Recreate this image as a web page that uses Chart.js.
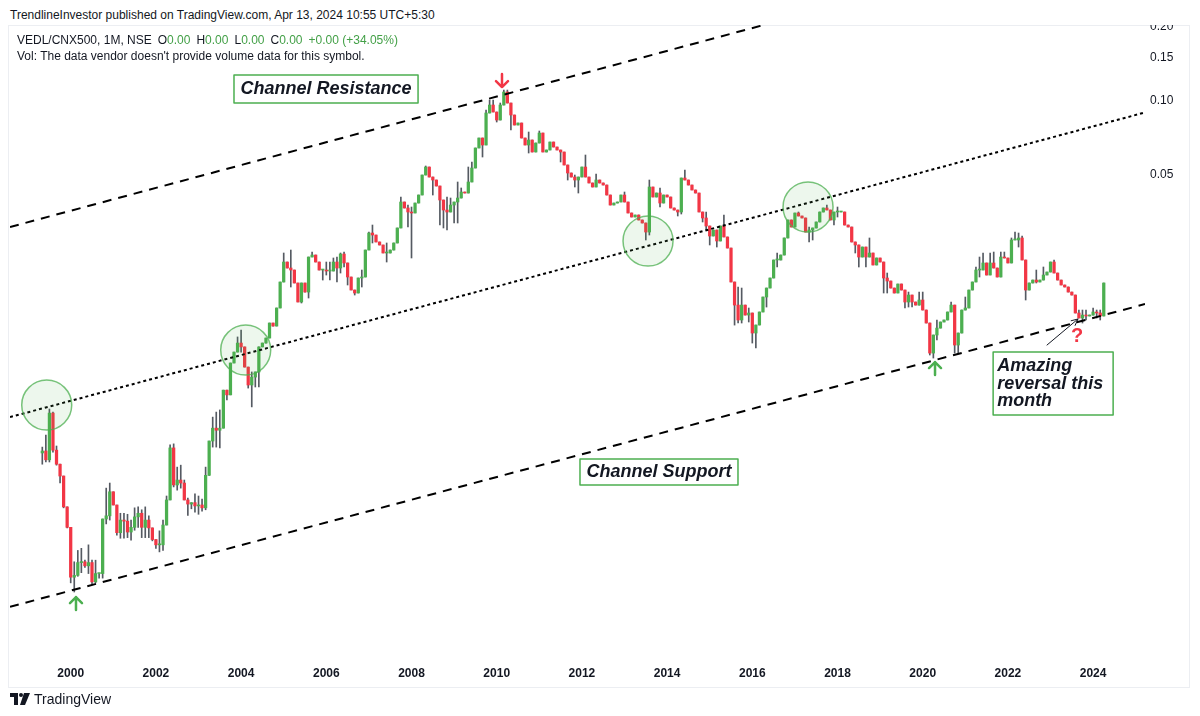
<!DOCTYPE html>
<html>
<head>
<meta charset="utf-8">
<script src="https://cdn.jsdelivr.net/npm/chart.js@4.4.1/dist/chart.umd.min.js"></script>
<style>
  html, body { margin: 0; padding: 0; background: #fff; }
  #wrap { position: relative; width: 1200px; height: 716px; overflow: hidden;
          font-family: "Liberation Sans", Arial, sans-serif; color: #131722; }
  #chart { position: absolute; left: 0; top: 0; }
  #head { position: absolute; left: 0; top: 0; width: 1200px; height: 25px; background: #fff;
          z-index: 2; font-size: 12px; line-height: 12px; }
  #head span { position: absolute; left: 10px; top: 9px; }
  .legend { position: absolute; left: 17px; font-size: 12px; line-height: 12px; z-index: 2; white-space: nowrap; }
  .legend .v { color: #43a047; }
  .legend .g { margin-left: 6px; }
  #brand { position: absolute; left: 10px; top: 691px; font-size: 14px; line-height: 16px; z-index: 2;
           display: flex; align-items: center; }
  #brand svg { margin-right: 4px; }
</style>
</head>
<body>
<div id="wrap">
  <canvas id="chart" width="1200" height="716"></canvas>
  <div id="head"><span>TrendlineInvestor published on TradingView.com, Apr 13, 2024 10:55 UTC+5:30</span></div>
  <div class="legend" style="top:34px">VEDL/CNX500, 1M, NSE<span class="g">O</span><span class="v">0.00</span><span class="g">H</span><span class="v">0.00</span><span class="g">L</span><span class="v">0.00</span><span class="g">C</span><span class="v">0.00</span><span class="g v">+0.00 (+34.05%)</span></div>
  <div class="legend" style="top:50px">Vol: The data vendor doesn't provide volume data for this symbol.</div>
  <div id="brand">
    <svg width="20" height="12" viewBox="0 0 20 12"><path d="M0 0h8v12h-4v-8h-4z" fill="#131722"/><circle cx="11" cy="2" r="2" fill="#131722"/><path d="M14 0h6l-5 12h-5z" fill="#131722"/></svg>
    <span>TradingView</span>
  </div>
</div>
<script>
// monthly candles, first one is May 1999, open of each candle = previous close
const startYear = 1999;
const startMonth = 5;
const firstOpen = 0.00371;

const closes = [
  0.00378, 0.00348, 0.00539, 0.00381, 0.00334, 0.00299, 0.00224, 0.00185, // 1999
  0.00116, 0.00118, 0.00133, 0.00134, 0.00129, 0.00133, 0.00111, 0.00120, 0.00120, 0.00200, 0.00206, 0.00258, // 2000
  0.00228, 0.00176, 0.00198, 0.00196, 0.00177, 0.00185, 0.00204, 0.00211, 0.00185, 0.00198, 0.00184, 0.00165, // 2001
  0.00157, 0.00157, 0.00189, 0.00239, 0.00389, 0.00275, 0.00288, 0.00280, 0.00239, 0.00230, 0.00233, 0.00226, // 2002
  0.00228, 0.00222, 0.00301, 0.00415, 0.00468, 0.00459, 0.00468, 0.00668, 0.00639, 0.00861, 0.00954, 0.01038, // 2003
  0.01001, 0.00829, 0.00701, 0.00755, 0.00792, 0.01001, 0.01038, 0.01088, 0.01252, 0.01217, 0.01441, 0.01838, // 2004
  0.02216, 0.02095, 0.02056, 0.01821, 0.01524, 0.01821, 0.01673, 0.02322, 0.02366, 0.02216, 0.02056, 0.02056, // 2005
  0.02037, 0.02037, 0.02216, 0.02095, 0.02388, 0.02196, 0.01926, 0.01705, 0.01658, 0.01908, 0.01926, 0.02479, // 2006
  0.02907, 0.02853, 0.02673, 0.02599, 0.02411, 0.02411, 0.02479, 0.02648, 0.03047, 0.03886, 0.03674, 0.03539, // 2007
  0.03506, 0.03849, 0.04149, 0.05003, 0.05392, 0.04910, 0.04774, 0.04514, 0.03959, 0.03605, 0.03539, 0.03778, // 2008
  0.03886, 0.04034, 0.04267, 0.04227, 0.04686, 0.05342, 0.06442, 0.07074, 0.06624, 0.08939, 0.09632, 0.09022, // 2009
  0.08370, 0.09632, 0.1088, 0.09815, 0.08772, 0.07988, 0.08140, 0.07074, 0.06624, 0.06942, 0.06205, 0.06750, // 2010
  0.07412, 0.06205, 0.06322, 0.06813, 0.06502, 0.06322, 0.06205, 0.05494, 0.05098, 0.04910, 0.04774, 0.04910, // 2011
  0.05392, 0.04910, 0.04643, 0.04472, 0.04774, 0.04643, 0.04556, 0.04149, 0.03778, 0.03849, 0.03886, 0.04149, // 2012
  0.03886, 0.03506, 0.03377, 0.03441, 0.03284, 0.03193, 0.02934, 0.04472, 0.04072, 0.04227, 0.03849, 0.04149, // 2013
  0.04072, 0.03674, 0.03605, 0.03539, 0.04864, 0.04774, 0.04556, 0.04348, 0.04227, 0.03539, 0.03346, 0.03104, // 2014
  0.02827, 0.02990, 0.02698, 0.03104, 0.02801, 0.02526, 0.01838, 0.01481, 0.01288, 0.01481, 0.01349, 0.01375, // 2015
  0.01140, 0.01229, 0.01388, 0.01597, 0.01737, 0.01908, 0.02258, 0.02258, 0.02366, 0.02775, 0.03284, 0.03075, // 2016
  0.03506, 0.03409, 0.03346, 0.02934, 0.02990, 0.03047, 0.03223, 0.03539, 0.03674, 0.03605, 0.03284, 0.03539, // 2017
  0.03539, 0.03539, 0.03133, 0.03075, 0.02673, 0.02599, 0.02322, 0.02550, 0.02322, 0.02411, 0.02155, 0.02301, // 2018
  0.02216, 0.01908, 0.01855, 0.01737, 0.01658, 0.01804, 0.01705, 0.01524, 0.01627, 0.01524, 0.01481, 0.01553, // 2019
  0.01414, 0.01252, 0.00945, 0.01119, 0.01194, 0.01264, 0.01288, 0.01388, 0.01481, 0.01019, 0.01140, 0.01414, // 2020
  0.01441, 0.01705, 0.01838, 0.02056, 0.02056, 0.02196, 0.01962, 0.02196, 0.02095, 0.01926, 0.02322, 0.02301, // 2021
  0.02196, 0.02723, 0.02723, 0.02775, 0.02258, 0.01705, 0.01821, 0.01872, 0.01838, 0.01872, 0.01962, 0.02018, // 2022
  0.02216, 0.01999, 0.01872, 0.01787, 0.01754, 0.01673, 0.01627, 0.01375, 0.01312, 0.01349, 0.01337, 0.01349, // 2023
  0.01388, 0.01375, 0.01337, 0.01821 // 2024
];

// null = no wick beyond the body
const highs = [
  0.00392, 0.00439, 0.00560, 0.00544, 0.00396, null, null, null,
  null, 0.00134, 0.00149, 0.00152, 0.00136, 0.00157, 0.00136, 0.00136, null, null, 0.00267, 0.00280,
  0.00250, null, 0.00211, 0.00211, 0.00209, 0.00198, 0.00222, 0.00224, 0.00218, 0.00224, 0.00206, null,
  null, 0.00179, 0.00198, 0.00248, 0.00400, 0.00404, 0.00325, 0.00331, 0.00288, 0.00243, null, 0.00253,
  0.00248, 0.00241, 0.00325, null, 0.00519, 0.00544, 0.00555, null, null, null, null, 0.01099,
  0.01172, null, null, 0.00792, null, null, null, null, null, null, null, null,
  0.02411, 0.02216, 0.02479, null, null, null, null, null, 0.02433, null, null, null,
  0.02216, 0.02216, 0.02301, 0.02322, 0.02411, 0.02433, null, null, null, null, 0.02056, null,
  0.02934, 0.03133, null, null, null, 0.02648, null, null, null, 0.04072, null, 0.03778,
  0.03708, null, null, null, 0.05443, null, null, null, null, null, 0.04072, 0.04034,
  null, 0.04686, 0.04431, null, 0.05392, 0.05651, null, null, 0.07074, 0.09192, 0.1009, 0.1009,
  null, 0.09815, 0.1108, 0.1108, null, null, null, null, null, 0.07482, null, null,
  0.07552, null, null, null, null, null, null, null, null, null, 0.05003, null,
  null, 0.06033, null, null, 0.05050, null, null, null, null, null, null, null,
  0.04267, null, null, null, null, null, null, 0.04774, null, null, 0.04431, null,
  null, null, null, null, null, 0.05243, null, null, null, null, null, 0.03539,
  null, null, null, null, 0.03441, null, null, null, 0.01754, 0.01737, null, 0.01441,
  null, null, null, null, null, null, null, 0.02411, null, null, null, null,
  null, 0.03539, null, null, 0.03075, null, null, null, null, 0.03778, null, null,
  0.03708, null, null, null, null, null, null, null, 0.02550, 0.02775, null, null,
  null, 0.01999, 0.01999, null, null, null, null, null, 0.01673, null, null, 0.01673,
  0.01673, null, null, null, 0.01288, null, null, null, 0.01524, null, null, null,
  0.01597, null, null, 0.02115, 0.02322, 0.02411, null, 0.02411, 0.02433, null, 0.02433, 0.02433,
  0.02301, 0.02775, 0.02934, 0.02907, 0.02827, null, null, null, 0.02056, null, 0.02115, null,
  null, 0.02258, 0.01962, null, null, null, null, null, 0.01414, 0.01414, 0.01414, null,
  0.01441, 0.01414, 0.01414, null
];

const lows = [
  0.00334, 0.00341, 0.00341, 0.00374, 0.00331, 0.00280, 0.00222, 0.00184,
  0.00110, 0.00101, 0.00117, 0.00121, 0.00127, 0.00120, 0.00109, 0.00110, 0.00115, 0.00115, 0.00191, 0.00198,
  null, 0.00172, 0.00167, 0.00167, 0.00168, 0.00164, 0.00180, 0.00185, 0.00168, 0.00168, 0.00168, 0.00163,
  0.00152, 0.00147, 0.00149, null, null, 0.00270, 0.00262, 0.00267, null, 0.00207, 0.00220, 0.00213,
  0.00209, 0.00215, 0.00218, null, 0.00392, 0.00392, 0.00389, null, 0.00609, null, 0.00861, null,
  0.00954, null, 0.00681, 0.00571, 0.00688, 0.00688, null, null, null, null, 0.01288, null,
  null, null, 0.01754, null, null, 0.01510, null, 0.01582, null, null, null, 0.01872,
  0.01962, 0.01872, 0.02095, 0.01838, 0.01999, 0.02115, 0.01787, null, 0.01627, null, 0.01754, null,
  null, 0.02648, null, null, null, 0.02216, null, null, null, null, null, 0.03075,
  0.02301, null, null, null, null, null, 0.04149, null, 0.03133, 0.03047, 0.02990, null,
  0.03193, 0.03193, null, null, null, null, null, null, 0.05921, null, null, null,
  0.08216, null, null, null, 0.07623, null, null, null, null, 0.06147, null, null,
  null, null, null, null, null, null, 0.05651, null, 0.04774, null, 0.04472, 0.04227,
  null, null, null, null, null, null, null, null, null, null, null, null,
  null, null, null, null, null, null, 0.02723, 0.02853, null, null, 0.03708, null,
  null, null, null, 0.03409, 0.03473, null, null, null, null, null, 0.03223, 0.02990,
  0.02599, null, 0.02550, null, null, null, null, 0.01228, 0.01252, 0.01252, null, 0.01264,
  0.01038, 0.00991, null, 0.01454, 0.01454, null, null, 0.02115, null, null, null, null,
  null, null, null, null, 0.02673, 0.02723, null, null, null, null, null, 0.03133,
  0.03377, null, null, null, null, 0.02411, 0.02115, null, 0.02115, null, null, null,
  null, 0.01658, 0.01658, null, null, null, null, 0.01441, 0.01454, 0.01454, null, null,
  null, null, 0.00928, 0.00902, 0.01068, null, null, null, null, 0.00945, 0.00945, null,
  null, null, null, null, 0.01926, null, null, null, null, null, null, null,
  null, null, null, 0.02550, null, 0.01553, null, null, 0.01821, null, null, null,
  null, null, null, null, null, null, null, null, null, 0.01252, 0.01288, null,
  null, 0.01312, 0.01288, null
];

const yearTicks = [2000, 2002, 2004, 2006, 2008, 2010, 2012, 2014, 2016, 2018, 2020, 2022, 2024];
const priceTicks = [0.05, 0.10, 0.15, 0.20];
const xRange = [1998.575, 2025.218];
const yRange = [0.00056, 0.2037];

// channel lines: [start, end] in years and prices
const resistanceX = [1998.575, 2017.0];
const resistanceY = [0.03075, 0.2203];
const middleX = [1998.575, 2025.171];
const middleY = [0.00519, 0.08939];
const supportX = [1998.575, 2025.218];
const supportY = [0.000879, 0.01495];

// highlight circles
const circleX = [1999.437, 2004.108, 2013.552, 2017.308];
const circleY = [0.00581, 0.00972, 0.02698, 0.03708];

// arrows (tip positions)
const redArrow = { x: 2010.124, y: 0.1140 };
const greenArrows = [{ x: 2000.124, y: 0.000963 }, { x: 2020.289, y: 0.00869 }];
const pointer = { x1: 2022.918, y1: 0.01019, x2: 2023.645, y2: 0.01300 };
const question = { x: 2023.622, y: 0.01099 };

// text notes, anchored at their top left corner
const notes = [
  { lines: ["Channel Resistance"], x: 2003.833, y: 0.1275, h: 28 },
  { lines: ["Channel Support"], x: 2011.955, y: 0.00351, h: 26 },
  { lines: ["Amazing", "reversal this", "month"], x: 2021.653, y: 0.00954, h: 63, w: 120 }
];

const UP = "#4caf50";
const DOWN = "#f23645";
const WICK = "#555a62";

const xs = closes.map((_, i) => startYear + (startMonth - 1 + i) / 12);
const opens = closes.map((_, i) => (i === 0 ? firstOpen : closes[i - 1]));

const bodies = closes.map((c, i) => ({ x: xs[i], y: [Math.min(opens[i], c), Math.max(opens[i], c)] }));
const bodyColors = closes.map((c, i) => (c >= opens[i] ? UP : DOWN));
const wicks = closes.map((c, i) => {
  const hi = Math.max(highs[i] || 0, opens[i], c);
  const lo = Math.min(lows[i] || Infinity, opens[i], c);
  return { x: xs[i], y: [lo, hi] };
});

function linePoints(xv, yv) {
  return xv.map((x, i) => ({ x, y: yv[i] }));
}

const overlay = {
  id: "overlay",
  beforeDraw(chart) {
    const ctx = chart.ctx;
    ctx.save();
    ctx.strokeStyle = "#eceef2";
    ctx.lineWidth = 1;
    ctx.strokeRect(8.5, 25.5, 1181, 662);
    ctx.restore();
  },
  afterDatasetsDraw(chart) {
    const ctx = chart.ctx;
    const sx = chart.scales.x, sy = chart.scales.y;
    const P = (x, y) => [sx.getPixelForValue(x), sy.getPixelForValue(y)];
    ctx.save();

    // circles
    circleX.forEach((x, i) => {
      const [cx, cy] = P(x, circleY[i]);
      ctx.beginPath();
      ctx.arc(cx, cy, 25, 0, Math.PI * 2);
      ctx.fillStyle = "rgba(76,175,80,0.10)";
      ctx.fill();
      ctx.strokeStyle = "rgba(76,175,80,0.75)";
      ctx.lineWidth = 1.5;
      ctx.stroke();
    });

    // thick arrows
    function arrow(px, py, dir, color) {
      ctx.strokeStyle = color;
      ctx.lineWidth = 2.5;
      ctx.lineCap = "round";
      ctx.lineJoin = "round";
      ctx.beginPath();
      ctx.moveTo(px, py - dir * 13);
      ctx.lineTo(px, py);
      ctx.moveTo(px - 6, py - dir * 6);
      ctx.lineTo(px, py);
      ctx.lineTo(px + 6, py - dir * 6);
      ctx.stroke();
    }
    const [ax, ay] = P(redArrow.x, redArrow.y);
    arrow(ax, ay, 1, DOWN);
    greenArrows.forEach((g) => {
      const [gx, gy] = P(g.x, g.y);
      arrow(gx, gy, -1, UP);
    });

    // thin pointer arrow
    const [p1x, p1y] = P(pointer.x1, pointer.y1);
    const [p2x, p2y] = P(pointer.x2, pointer.y2);
    ctx.strokeStyle = "#131722";
    ctx.lineWidth = 1;
    ctx.beginPath();
    ctx.moveTo(p1x, p1y);
    ctx.lineTo(p2x, p2y);
    const ang = Math.atan2(p2y - p1y, p2x - p1x);
    ctx.moveTo(p2x - 7 * Math.cos(ang - 0.45), p2y - 7 * Math.sin(ang - 0.45));
    ctx.lineTo(p2x, p2y);
    ctx.lineTo(p2x - 7 * Math.cos(ang + 0.45), p2y - 7 * Math.sin(ang + 0.45));
    ctx.stroke();

    // question mark
    const [qx, qy] = P(question.x, question.y);
    ctx.fillStyle = DOWN;
    ctx.font = 'bold 20px "Liberation Sans", Arial, sans-serif';
    ctx.textAlign = "center";
    ctx.textBaseline = "middle";
    ctx.fillText("?", qx, qy);

    // notes
    ctx.font = 'italic bold 18px "Liberation Sans", Arial, sans-serif';
    ctx.textAlign = "left";
    notes.forEach((n) => {
      const [nx, ny] = P(n.x, n.y);
      const tw = Math.max(...n.lines.map((l) => ctx.measureText(l).width));
      const w = n.w || tw + 13;
      ctx.fillStyle = "#fff";
      ctx.fillRect(nx, ny, w, n.h);
      ctx.strokeStyle = UP;
      ctx.lineWidth = 1.5;
      ctx.strokeRect(nx, ny, w, n.h);
      ctx.fillStyle = "#131722";
      const lh = 17.6;
      const top = ny + n.h / 2 - (lh * (n.lines.length - 1)) / 2;
      n.lines.forEach((l, k) => {
        ctx.fillText(l, n.lines.length > 1 ? nx + 4 : nx + (w - tw) / 2, top + k * lh);
      });
    });
    ctx.restore();
  }
};

new Chart(document.getElementById("chart"), {
  type: "bar",
  data: {
    datasets: [
      {
        type: "line", data: linePoints(resistanceX, resistanceY), borderColor: "#000",
        borderWidth: 2, borderDash: [9, 7], pointRadius: 0, order: -1
      },
      {
        type: "line", data: linePoints(middleX, middleY), borderColor: "#000",
        borderWidth: 2, borderDash: [3, 3], pointRadius: 0, order: -1
      },
      {
        type: "line", data: linePoints(supportX, supportY), borderColor: "#000",
        borderWidth: 2, borderDash: [9, 7], pointRadius: 0, order: -1
      },
      {
        data: bodies, backgroundColor: bodyColors, barThickness: 2.6,
        minBarLength: 1, grouped: false, order: 0
      },
      {
        data: wicks, backgroundColor: WICK, barThickness: 1, grouped: false, order: 1
      }
    ]
  },
  options: {
    responsive: false,
    animation: false,
    events: [],
    layout: { padding: { left: 10, top: 25, right: 10, bottom: 28 } },
    plugins: { legend: { display: false }, tooltip: { enabled: false } },
    scales: {
      x: {
        type: "linear", min: xRange[0], max: xRange[1], offset: false,
        grid: { display: false, drawTicks: false }, border: { display: false },
        afterBuildTicks: (s) => { s.ticks = yearTicks.map((v) => ({ value: v })); },
        afterFit: (s) => { s.height = 33; },
        ticks: {
          padding: 11, color: "#131722", maxRotation: 0, autoSkip: false,
          font: { family: '"Liberation Sans", Arial, sans-serif', size: 12, weight: "bold" },
          callback: (v) => String(v)
        }
      },
      y: {
        type: "logarithmic", position: "right", min: yRange[0], max: yRange[1],
        grid: { display: false, drawTicks: false }, border: { display: false },
        afterBuildTicks: (s) => { s.ticks = priceTicks.map((v) => ({ value: v })); },
        afterFit: (s) => { s.width = 45; },
        ticks: {
          padding: 5, color: "#131722",
          font: { family: '"Liberation Sans", Arial, sans-serif', size: 12 },
          callback: (v) => Number(v).toFixed(2)
        }
      }
    }
  },
  plugins: [overlay]
});
</script>
</body>
</html>
